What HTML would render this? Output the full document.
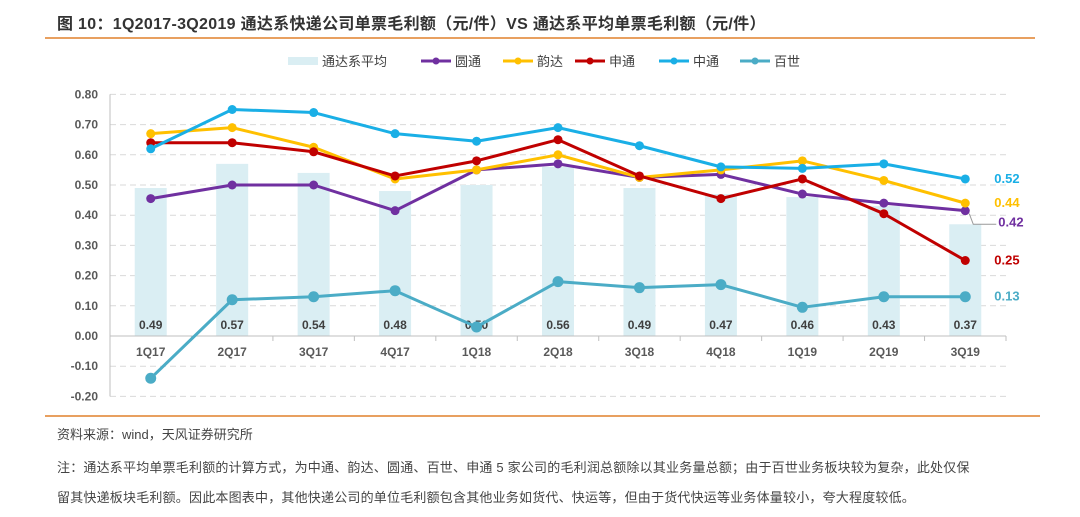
<!DOCTYPE html>
<html><head><meta charset="utf-8">
<style>
body{margin:0;width:1080px;height:517px;background:#fff;overflow:hidden;font-family:"Liberation Sans","Noto Sans CJK SC",sans-serif;position:relative}
.t{position:absolute;white-space:nowrap}
</style></head><body>
<div class="t" style="left:57px;top:10px;font-size:16px;font-weight:bold;color:#333;letter-spacing:0.3px">图 10：1Q2017-3Q2019 通达系快递公司单票毛利额（元/件）VS 通达系平均单票毛利额（元/件）</div>
<div style="position:absolute;left:45px;top:37px;width:990px;height:2px;background:#E8A060"></div>
<div style="position:absolute;left:45px;top:415px;width:995px;height:2px;background:#E8A060"></div>
<div class="t" style="left:57px;top:424px;font-size:13px;color:#444">资料来源：wind，天风证券研究所</div>
<div class="t" style="left:57px;top:457px;font-size:13px;color:#444;letter-spacing:0.2px">注：通达系平均单票毛利额的计算方式，为中通、韵达、圆通、百世、申通 5 家公司的毛利润总额除以其业务量总额；由于百世业务板块较为复杂，此处仅保</div>
<div class="t" style="left:57px;top:487px;font-size:13px;color:#444;letter-spacing:0.2px">留其快递板块毛利额。因此本图表中，其他快递公司的单位毛利额包含其他业务如货代、快运等，但由于货代快运等业务体量较小，夸大程度较低。</div>
<svg id="chart" width="1080" height="517" style="position:absolute;left:0;top:0" xmlns="http://www.w3.org/2000/svg"></svg>
<script>
const categories=["1Q17","2Q17","3Q17","4Q17","1Q18","2Q18","3Q18","4Q18","1Q19","2Q19","3Q19"];
const avgValues=[0.49,0.57,0.54,0.48,0.50,0.56,0.49,0.47,0.46,0.43,0.37];
const yuantong=[0.455,0.50,0.50,0.415,0.55,0.57,0.525,0.535,0.47,0.44,0.415];
const yunda=[0.67,0.69,0.625,0.52,0.55,0.60,0.525,0.55,0.58,0.515,0.44];
const shentong=[0.64,0.64,0.61,0.53,0.58,0.65,0.53,0.455,0.52,0.405,0.25];
const zhongtong=[0.62,0.75,0.74,0.67,0.645,0.69,0.63,0.56,0.555,0.57,0.52];
const baishi=[-0.14,0.12,0.13,0.15,0.03,0.18,0.16,0.17,0.095,0.13,0.13];
const endLabels=["0.42","0.44","0.25","0.52","0.13"];
const yTicks=[0.8,0.7,0.6,0.5,0.4,0.3,0.2,0.1,0,-0.1,-0.2];
const ns="http://www.w3.org/2000/svg";
const svg=document.getElementById('chart');
const X0=110,X1=1006,Y0=336,PX=302;
const bw=(X1-X0)/categories.length;
const xS=i=>X0+bw*(i+0.5);
const yS=v=>Y0-v*PX;
function mk(t,a,p){const e=document.createElementNS(ns,t);for(const k in a)e.setAttribute(k,a[k]);(p||svg).appendChild(e);return e;}
yTicks.forEach(v=>{
  if(v!==0){const g=mk('line',{x1:X0,x2:X1,y1:yS(v),y2:yS(v),stroke:'#d9d9d9','stroke-dasharray':'6,4'});
  
  }
  const t=mk('text',{x:98,y:yS(v)+4,'text-anchor':'end','font-size':12,'font-weight':'bold',fill:'#595959'});
  t.textContent=v.toFixed(2);
  
  
});
const ya=mk('line',{x1:X0,x2:X0,y1:yS(0.8),y2:yS(-0.2),stroke:'#bfbfbf'});


avgValues.forEach((v,i)=>{
  const r=mk('rect',{x:xS(i)-16,y:yS(v),width:32,height:Y0-yS(v),fill:'#DAEEF3'});
  
  
});
const xa=mk('line',{x1:X0,x2:X1,y1:Y0,y2:Y0,stroke:'#bfbfbf'});


categories.forEach((c,i)=>{
  const tk=mk('line',{x1:X0+bw*(i+1),x2:X0+bw*(i+1),y1:Y0,y2:Y0+5,stroke:'#bfbfbf'});
  
  
  const t=mk('text',{x:xS(i),y:Y0+20,'text-anchor':'middle','font-size':12,'font-weight':'bold',fill:'#595959'});
  t.textContent=c;
  
  
  const l=mk('text',{x:xS(i),y:Y0-7,'text-anchor':'middle','font-size':12,'font-weight':'bold',fill:'#404040'});
  l.textContent=avgValues[i].toFixed(2);
  
  
});
const series=[[baishi,'#4BACC6','baishi',5.5],[yuantong,'#7030A0','yuantong',4.5],[yunda,'#FFC000','yunda',4.5],[shentong,'#C00000','shentong',4.5],[zhongtong,'#1AAFE6','zhongtong',4.5]];
series.forEach(([d,col,n,r])=>{
  const p=mk('polyline',{points:d.map((v,i)=>xS(i)+','+yS(v)).join(' '),fill:'none',stroke:col,'stroke-width':3,'stroke-linejoin':'round'});
  
  
  d.forEach((v,i)=>{const c=mk('circle',{cx:xS(i),cy:yS(v),r:r,fill:col});
  
  });
});
const last=categories.length-1;
const endSeries=[[yuantong,'#7030A0',12],[yunda,'#FFC000',0],[shentong,'#C00000',0],[zhongtong,'#1AAFE6',0],[baishi,'#4BACC6',0]];
endSeries.forEach(([d,col,dy],k)=>{
  const t=mk('text',{x:xS(last)+(dy?33:29),y:yS(d[last])+4+dy,'font-size':13,'font-weight':'bold',fill:col});
  t.textContent=endLabels[k];
  
  
});
mk('polyline',{points:`${xS(last)+4},${yS(0.405)} ${xS(last)+8},${yS(0.37)} ${xS(last)+31},${yS(0.37)}`,fill:'none',stroke:'#999','stroke-width':1});
const leg=[['通达系平均','#DAEEF3','bar'],['圆通','#7030A0'],['韵达','#FFC000'],['申通','#C00000'],['中通','#1AAFE6'],['百世','#4BACC6']];
const lx=[288,421,503,575,659,740];
leg.forEach((L,i)=>{
  const g=mk('g',{});
  
  
  const x=lx[i];
  if(L[2])mk('rect',{x:x,y:57,width:30,height:8,fill:L[1]},g);
  else{mk('line',{x1:x,x2:x+30,y1:61,y2:61,stroke:L[1],'stroke-width':3},g);mk('circle',{cx:x+15,cy:61,r:3.5,fill:L[1]},g);}
  const t=mk('text',{x:x+34,y:66,'font-size':13,fill:'#404040'},g);
  t.textContent=L[0];
});
</script>
</body></html>
